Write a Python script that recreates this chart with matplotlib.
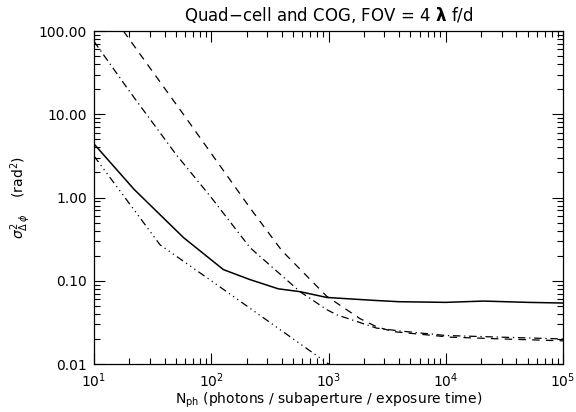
import matplotlib
matplotlib.use('Agg')
import matplotlib.pyplot as plt
from matplotlib.ticker import FixedLocator, FixedFormatter, LogLocator, NullFormatter

# photon number (x) and variance (y)
n_solid = [10, 22, 58, 127, 215, 373, 570, 966, 2500, 4000, 10000, 21000, 50000, 100000]
v_solid = [4.4, 1.25, 0.33, 0.136, 0.103, 0.080, 0.074, 0.063, 0.058, 0.056, 0.055, 0.057, 0.055, 0.054]

n_dash = [17.8, 61, 214, 400, 966, 1860, 2570, 3550, 11000, 30000, 100000]
v_dash = [100, 9.0, 0.75, 0.23, 0.065, 0.035, 0.028, 0.0245, 0.021, 0.020, 0.019]

n_dashdot = [10, 20, 50, 100, 214, 571, 966, 1175, 2570, 4000, 10000, 30000, 100000]
v_dashdot = [75, 19, 3.3, 1.0, 0.25, 0.074, 0.045, 0.039, 0.027, 0.025, 0.022, 0.021, 0.020]

n_dd3 = [10, 36.6, 100, 1100]
v_dd3 = [3.15, 0.27, 0.10, 0.0091]

fig = plt.figure(figsize=(5.76, 4.12), dpi=100)
ax = fig.add_axes([94/576, 1-364/412, (563-94)/576, (364-31)/412])

ax.plot(n_solid, v_solid, color='black', lw=1.1)
ax.plot(n_dash, v_dash, color='black', lw=0.9, dashes=(6, 5))
ax.plot(n_dashdot, v_dashdot, color='black', lw=0.9, dashes=(6, 3, 1, 3))
ax.plot(n_dd3, v_dd3, color='black', lw=0.9, dashes=(6, 3, 1, 3, 1, 3, 1, 3))

ax.set_xscale('log')
ax.set_yscale('log')
ax.set_xlim(10, 1e5)
ax.set_ylim(0.01, 100)

yt = [0.01, 0.1, 1, 10, 100]
ax.yaxis.set_major_locator(FixedLocator(yt))
ax.yaxis.set_major_formatter(FixedFormatter(['0.01', '0.10', '1.00', '10.00', '100.00']))
xt = [10, 100, 1000, 10000, 100000]
ax.xaxis.set_major_locator(FixedLocator(xt))
ax.xaxis.set_major_formatter(FixedFormatter([r'$10^{1}$', r'$10^{2}$', r'$10^{3}$', r'$10^{4}$', r'$10^{5}$']))
for a in (ax.xaxis, ax.yaxis):
    a.set_minor_locator(LogLocator(base=10, subs=range(2, 10)))
    a.set_minor_formatter(NullFormatter())

ax.tick_params(which='both', direction='in', top=True, right=True, labelsize=10, width=0.8)
ax.tick_params(which='major', length=8, pad=5)
ax.tick_params(which='minor', length=4)
for s in ax.spines.values():
    s.set_linewidth(0.9)

ax.set_title(r'Quad$-$cell and COG, FOV = 4 $\mathbf{\lambda}$ f/d', fontsize=12, pad=7)
ax.set_xlabel(r'N$_{\rm ph}$ (photons / subaperture / exposure time)', fontsize=10, labelpad=1)
ax.set_ylabel(r'$\sigma^2_{\Delta\,\phi}$    (rad$^2$)', fontsize=10, labelpad=4)

fig.savefig('out.png', dpi=100)
